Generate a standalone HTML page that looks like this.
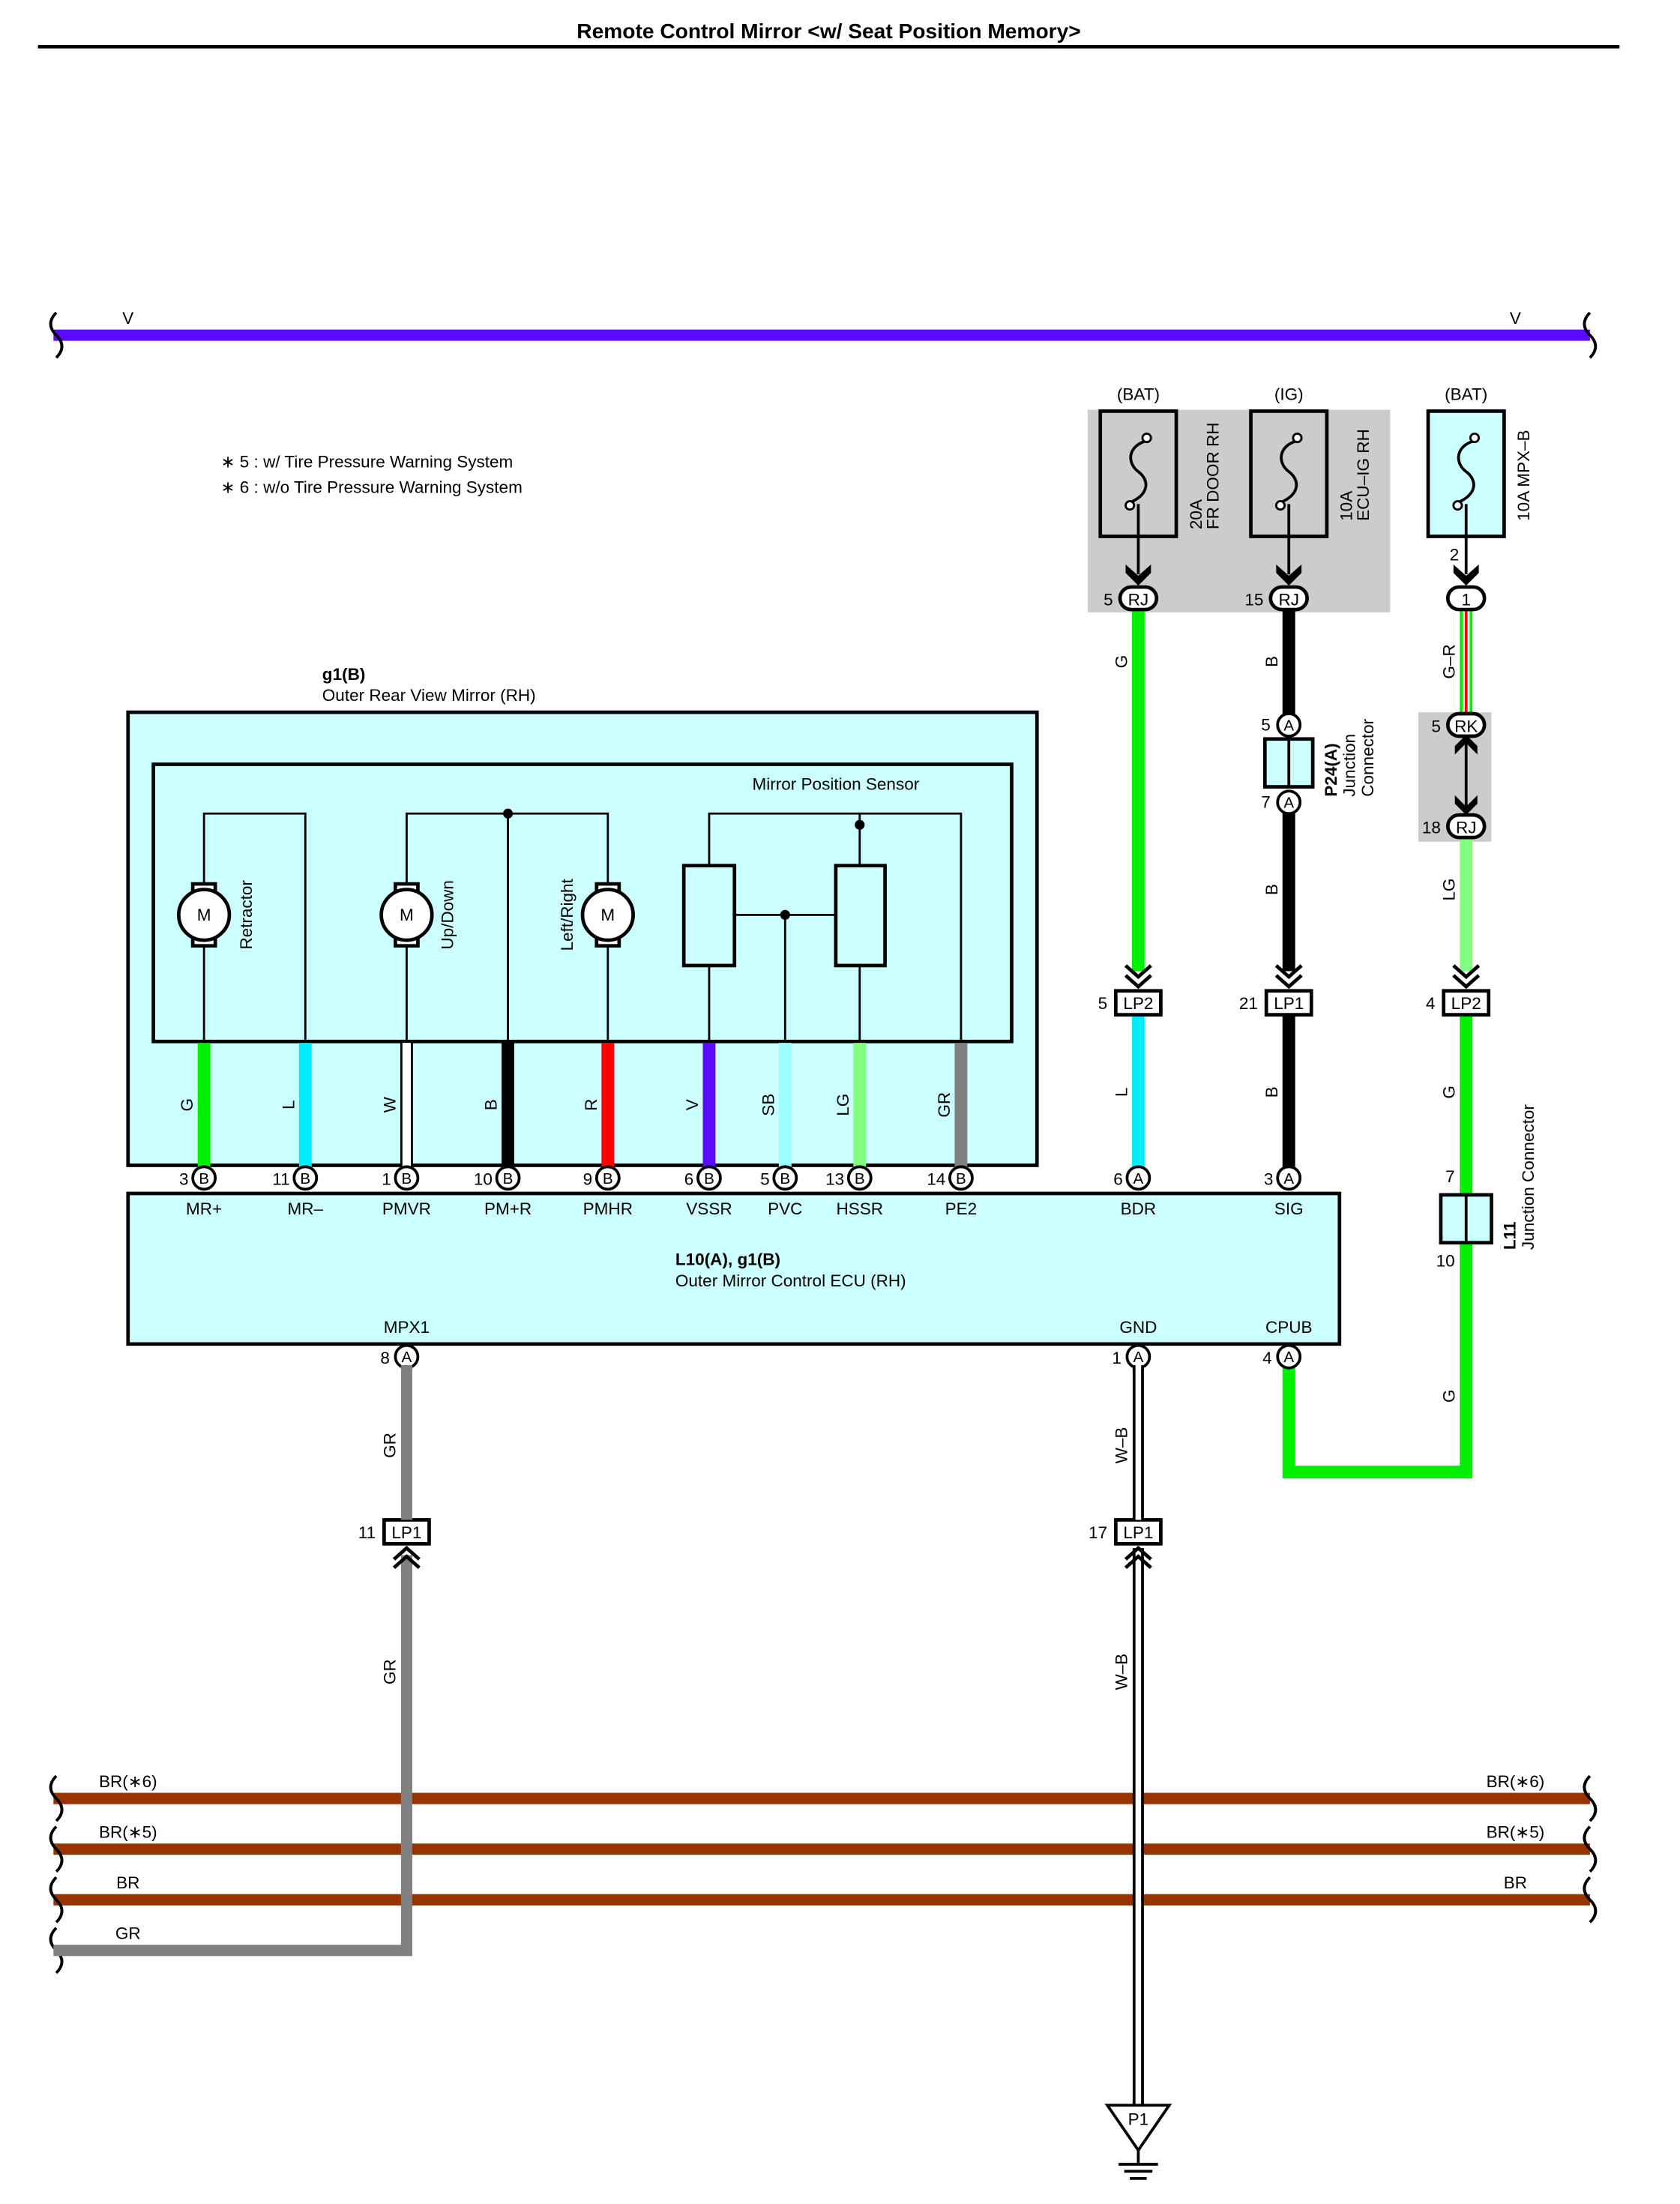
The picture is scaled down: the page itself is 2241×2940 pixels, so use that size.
<!DOCTYPE html>
<html><head><meta charset="utf-8"><style>
html,body{margin:0;padding:0;background:#fff}
svg{display:block}
text{font-family:"Liberation Sans",sans-serif;fill:#000}
</style></head><body>
<svg width="2241" height="2940" viewBox="0 0 1194 1566" xmlns="http://www.w3.org/2000/svg">
<text x="589" y="27" font-size="15" font-weight="bold" text-anchor="middle">Remote Control Mirror &lt;w/ Seat Position Memory&gt;</text>
<line x1="27" y1="33" x2="1151" y2="33" stroke="#000" stroke-width="2.5"/>

<line x1="38" y1="238" x2="1130" y2="238" stroke="#5a0aff" stroke-width="8"/>
<path d="M40 222 q-8 8 0 16 q8 8 0 16" fill="none" stroke="#000" stroke-width="2"/>
<path d="M1130 222 q-8 8 0 16 q8 8 0 16" fill="none" stroke="#000" stroke-width="2"/>
<text x="91" y="230" font-size="12" text-anchor="middle">V</text>
<text x="1077" y="230" font-size="12" text-anchor="middle">V</text>

<text x="157" y="332" font-size="12">∗ 5 : w/ Tire Pressure Warning System</text>
<text x="157" y="350" font-size="12">∗ 6 : w/o Tire Pressure Warning System</text>

<rect x="773" y="291" width="215" height="144" fill="#cccccc"/>
<rect x="1008" y="506" width="52" height="92" fill="#cccccc"/>
<text x="809" y="284" font-size="12" text-anchor="middle">(BAT)</text>
<text x="916" y="284" font-size="12" text-anchor="middle">(IG)</text>
<text x="1042" y="284" font-size="12" text-anchor="middle">(BAT)</text>
<g stroke="#000" stroke-width="2.5">
<rect x="782" y="292" width="54" height="89" fill="#cccccc"/>
<rect x="889" y="292" width="54" height="89" fill="#cccccc"/>
<rect x="1015" y="292" width="54" height="89" fill="#ccffff"/>
</g>
<g fill="none" stroke="#000" stroke-width="2">
<path d="M815 313 c-14 4 -14 16 -6 22 c8 6 8 16 -6 22"/>
<path d="M922 313 c-14 4 -14 16 -6 22 c8 6 8 16 -6 22"/>
<path d="M1048 313 c-14 4 -14 16 -6 22 c8 6 8 16 -6 22"/>
<line x1="809" y1="358" x2="809" y2="408"/>
<line x1="916" y1="358" x2="916" y2="408"/>
<line x1="1042" y1="358" x2="1042" y2="408"/>
</g>
<g fill="#fff" stroke="#000" stroke-width="1.5">
<circle cx="815" cy="311" r="3"/><circle cx="803" cy="359" r="3"/>
<circle cx="922" cy="311" r="3"/><circle cx="910" cy="359" r="3"/>
<circle cx="1048" cy="311" r="3"/><circle cx="1036" cy="359" r="3"/>
</g>
<g font-size="12">
<text transform="translate(854,376) rotate(-90)">20A</text>
<text transform="translate(866,376) rotate(-90)">FR DOOR RH</text>
<text transform="translate(961,370) rotate(-90)">10A</text>
<text transform="translate(973,370) rotate(-90)">ECU–IG RH</text>
<text transform="translate(1087,370) rotate(-90)">10A MPX–B</text>
</g>
<g fill="#000">
<path d="M800 401 l9 8 l9 -8 v6 l-9 9 l-9 -9z"/>
<path d="M907 401 l9 8 l9 -8 v6 l-9 9 l-9 -9z"/>
<path d="M1033 401 l9 8 l9 -8 v6 l-9 9 l-9 -9z"/>
</g>

<line x1="809" y1="432" x2="809" y2="690" stroke="#00ee00" stroke-width="9"/>
<line x1="809" y1="720" x2="809" y2="830" stroke="#00eeff" stroke-width="9"/>
<line x1="916" y1="432" x2="916" y2="508" stroke="#000" stroke-width="9"/>
<line x1="916" y1="576" x2="916" y2="690" stroke="#000" stroke-width="9"/>
<line x1="916" y1="720" x2="916" y2="830" stroke="#000" stroke-width="9"/>
<line x1="1042" y1="432" x2="1042" y2="508" stroke="#00ee00" stroke-width="9"/>
<line x1="1042" y1="432" x2="1042" y2="508" stroke="#fff" stroke-width="5"/>
<line x1="1042" y1="432" x2="1042" y2="508" stroke="#ff0000" stroke-width="2"/>
<line x1="1042" y1="593" x2="1042" y2="690" stroke="#80ff80" stroke-width="9"/>
<path d="M1042 720 V1046 H916 V970" fill="none" stroke="#00ee00" stroke-width="9"/>
<line x1="1042" y1="521" x2="1042" y2="580" stroke="#000" stroke-width="2"/>
<path d="M1034 536 l8 -8 l8 8 v-6 l-8 -8 l-8 8z M1034 565 l8 8 l8 -8 v6 l-8 8 l-8 -8z" fill="#000"/>

<g font-size="12">
<text transform="translate(801,470) rotate(-90)" text-anchor="middle">G</text>
<text transform="translate(908,470) rotate(-90)" text-anchor="middle">B</text>
<text transform="translate(908,632) rotate(-90)" text-anchor="middle">B</text>
<text transform="translate(1034,470) rotate(-90)" text-anchor="middle">G–R</text>
<text transform="translate(1034,632) rotate(-90)" text-anchor="middle">LG</text>
<text transform="translate(801,776) rotate(-90)" text-anchor="middle">L</text>
<text transform="translate(908,776) rotate(-90)" text-anchor="middle">B</text>
<text transform="translate(1034,776) rotate(-90)" text-anchor="middle">G</text>
<text transform="translate(1034,992) rotate(-90)" text-anchor="middle">G</text>
</g>

<g stroke="#000" stroke-width="2.5" fill="#fff">
<rect x="796" y="417" width="26" height="16" rx="8"/>
<rect x="903" y="417" width="26" height="16" rx="8"/>
<rect x="1029" y="417" width="26" height="16" rx="8"/>
<rect x="1029" y="507" width="26" height="16" rx="8"/>
<rect x="1029" y="579" width="26" height="16" rx="8"/>
</g>
<g font-size="12" text-anchor="middle">
<text x="809" y="430">RJ</text><text x="916" y="430">RJ</text><text x="1042" y="430">1</text>
<text x="1042" y="520">RK</text><text x="1042" y="592">RJ</text>
</g>
<g font-size="12" text-anchor="end">
<text x="791" y="430">5</text><text x="898" y="430">15</text><text x="1037" y="398">2</text>
<text x="1024" y="520">5</text><text x="1024" y="592">18</text>
</g>

<rect x="899" y="525" width="34" height="34" fill="#ccffff" stroke="#000" stroke-width="2.5"/>
<line x1="916" y1="525" x2="916" y2="559" stroke="#000" stroke-width="2"/>
<g stroke="#000" stroke-width="2" fill="#fff"><circle cx="916" cy="515" r="8"/><circle cx="916" cy="570" r="8"/></g>
<text x="916" y="519" font-size="11" text-anchor="middle">A</text>
<text x="916" y="574" font-size="11" text-anchor="middle">A</text>
<text x="903" y="519" font-size="12" text-anchor="end">5</text>
<text x="903" y="574" font-size="12" text-anchor="end">7</text>
<text transform="translate(950,566) rotate(-90)" font-size="12" font-weight="bold">P24(A)</text>
<text transform="translate(963,566) rotate(-90)" font-size="12">Junction</text>
<text transform="translate(976,566) rotate(-90)" font-size="12">Connector</text>

<g fill="none" stroke="#000" stroke-width="2.5">
<path d="M800 686 l9 8 l9 -8 M800 693 l9 8 l9 -8"/>
<path d="M907 686 l9 8 l9 -8 M907 693 l9 8 l9 -8"/>
<path d="M1033 686 l9 8 l9 -8 M1033 693 l9 8 l9 -8"/>
</g>
<g stroke="#000" stroke-width="2.5" fill="#fff">
<rect x="793" y="704" width="32" height="17"/>
<rect x="900" y="704" width="32" height="17"/>
<rect x="1026" y="704" width="32" height="17"/>
<rect x="273" y="1080" width="32" height="17"/>
<rect x="793" y="1080" width="32" height="17"/>
</g>
<g font-size="12" text-anchor="middle">
<text x="809" y="717">LP2</text><text x="916" y="717">LP1</text><text x="1042" y="717">LP2</text>
<text x="289" y="1093">LP1</text><text x="809" y="1093">LP1</text>
</g>
<g font-size="12" text-anchor="end">
<text x="787" y="717">5</text><text x="894" y="717">21</text><text x="1020" y="717">4</text>
<text x="267" y="1093">11</text><text x="787" y="1093">17</text>
</g>

<rect x="1024" y="849" width="36" height="34" fill="#ccffff" stroke="#000" stroke-width="2.5"/>
<line x1="1042" y1="849" x2="1042" y2="883" stroke="#000" stroke-width="2"/>
<text x="1034" y="840" font-size="12" text-anchor="end">7</text>
<text x="1034" y="900" font-size="12" text-anchor="end">10</text>
<text transform="translate(1077,888) rotate(-90)" font-size="12" font-weight="bold">L11</text>
<text transform="translate(1090,888) rotate(-90)" font-size="12">Junction Connector</text>

<text x="229" y="483" font-size="12" font-weight="bold">g1(B)</text>
<text x="229" y="498" font-size="12">Outer Rear View Mirror (RH)</text>
<rect x="91" y="506" width="646" height="322" fill="#ccffff" stroke="#000" stroke-width="2.5"/>
<rect x="109" y="543" width="610" height="197" fill="#ccffff" stroke="#000" stroke-width="2.5"/>
<text x="594" y="561" font-size="12" text-anchor="middle">Mirror Position Sensor</text>
<g fill="none" stroke="#000" stroke-width="1.5">
<path d="M145 740 V578 H217 V740"/>
<path d="M289 740 V578 H432 V740"/>
<line x1="361" y1="578" x2="361" y2="740"/>
<path d="M504 740 V578 H683 V740"/>
<line x1="558" y1="650" x2="558" y2="740"/>
<line x1="522" y1="650" x2="594" y2="650"/>
<line x1="611" y1="578" x2="611" y2="740"/>
</g>
<circle cx="361" cy="578" r="3.5"/><circle cx="558" cy="650" r="3.5"/><circle cx="611" cy="586" r="3.5"/>
<g stroke="#000" stroke-width="2.5" fill="#ccffff">
<rect x="486" y="615" width="36" height="71"/>
<rect x="594" y="615" width="35" height="71"/>
</g>
<g stroke="#000" stroke-width="2.5" fill="#fff">
<rect x="137" y="628" width="16" height="8"/><rect x="137" y="664" width="16" height="8"/><circle cx="145" cy="650" r="18"/>
<rect x="281" y="628" width="16" height="8"/><rect x="281" y="664" width="16" height="8"/><circle cx="289" cy="650" r="18"/>
<rect x="424" y="628" width="16" height="8"/><rect x="424" y="664" width="16" height="8"/><circle cx="432" cy="650" r="18"/>
</g>
<g font-size="12" text-anchor="middle"><text x="145" y="654">M</text><text x="289" y="654">M</text><text x="432" y="654">M</text></g>
<g font-size="12" text-anchor="middle">
<text transform="translate(179,650) rotate(-90)">Retractor</text>
<text transform="translate(322,650) rotate(-90)">Up/Down</text>
<text transform="translate(407,650) rotate(-90)">Left/Right</text>
</g>
<g stroke-width="9">
<line x1="145" y1="741" x2="145" y2="830" stroke="#00ee00"/>
<line x1="217" y1="741" x2="217" y2="830" stroke="#00eeff"/>
<line x1="289" y1="741" x2="289" y2="830" stroke="#000"/>
<line x1="289" y1="741" x2="289" y2="830" stroke="#fff" stroke-width="6"/>
<line x1="361" y1="741" x2="361" y2="830" stroke="#000"/>
<line x1="432" y1="741" x2="432" y2="830" stroke="#ff0000"/>
<line x1="504" y1="741" x2="504" y2="830" stroke="#5a0aff"/>
<line x1="558" y1="741" x2="558" y2="830" stroke="#99ffff"/>
<line x1="611" y1="741" x2="611" y2="830" stroke="#80ff80"/>
<line x1="683" y1="741" x2="683" y2="830" stroke="#808080"/>
</g>
<g font-size="12" text-anchor="middle">
<text transform="translate(137,785) rotate(-90)">G</text>
<text transform="translate(209,785) rotate(-90)">L</text>
<text transform="translate(281,785) rotate(-90)">W</text>
<text transform="translate(353,785) rotate(-90)">B</text>
<text transform="translate(424,785) rotate(-90)">R</text>
<text transform="translate(496,785) rotate(-90)">V</text>
<text transform="translate(550,785) rotate(-90)">SB</text>
<text transform="translate(603,785) rotate(-90)">LG</text>
<text transform="translate(675,785) rotate(-90)">GR</text>
</g>

<rect x="91" y="848" width="861" height="107" fill="#ccffff" stroke="#000" stroke-width="2.5"/>
<text x="480" y="899" font-size="12" font-weight="bold">L10(A), g1(B)</text>
<text x="480" y="914" font-size="12">Outer Mirror Control ECU (RH)</text>
<g font-size="12" text-anchor="middle">
<text x="145" y="863">MR+</text><text x="217" y="863">MR–</text><text x="289" y="863">PMVR</text>
<text x="361" y="863">PM+R</text><text x="432" y="863">PMHR</text><text x="504" y="863">VSSR</text>
<text x="558" y="863">PVC</text><text x="611" y="863">HSSR</text><text x="683" y="863">PE2</text>
<text x="809" y="863">BDR</text><text x="916" y="863">SIG</text>
<text x="289" y="947">MPX1</text><text x="809" y="947">GND</text><text x="916" y="947">CPUB</text>
</g>
<g stroke="#000" stroke-width="2" fill="#fff">
<circle cx="145" cy="837" r="8"/><circle cx="217" cy="837" r="8"/><circle cx="289" cy="837" r="8"/>
<circle cx="361" cy="837" r="8"/><circle cx="432" cy="837" r="8"/><circle cx="504" cy="837" r="8"/>
<circle cx="558" cy="837" r="8"/><circle cx="611" cy="837" r="8"/><circle cx="683" cy="837" r="8"/>
<circle cx="809" cy="837" r="8"/><circle cx="916" cy="837" r="8"/>
<circle cx="289" cy="964" r="8"/><circle cx="809" cy="964" r="8"/><circle cx="916" cy="964" r="8"/>
</g>
<g font-size="11" text-anchor="middle">
<text x="145" y="841">B</text><text x="217" y="841">B</text><text x="289" y="841">B</text>
<text x="361" y="841">B</text><text x="432" y="841">B</text><text x="504" y="841">B</text>
<text x="558" y="841">B</text><text x="611" y="841">B</text><text x="683" y="841">B</text>
<text x="809" y="841">A</text><text x="916" y="841">A</text>
<text x="289" y="968">A</text><text x="809" y="968">A</text><text x="916" y="968">A</text>
</g>
<g font-size="12" text-anchor="end">
<text x="134" y="842">3</text><text x="206" y="842">11</text><text x="278" y="842">1</text>
<text x="350" y="842">10</text><text x="421" y="842">9</text><text x="493" y="842">6</text>
<text x="547" y="842">5</text><text x="600" y="842">13</text><text x="672" y="842">14</text>
<text x="798" y="842">6</text><text x="905" y="842">3</text>
<text x="277" y="969">8</text><text x="797" y="969">1</text><text x="904" y="969">4</text>
</g>

<g stroke="#993300" stroke-width="8">
<line x1="38" y1="1278" x2="1130" y2="1278"/>
<line x1="38" y1="1314" x2="1130" y2="1314"/>
<line x1="38" y1="1350" x2="1130" y2="1350"/>
</g>
<g fill="none" stroke="#000" stroke-width="2">
<path d="M40 1262 q-8 8 0 16 q8 8 0 16"/><path d="M1130 1262 q-8 8 0 16 q8 8 0 16"/>
<path d="M40 1298 q-8 8 0 16 q8 8 0 16"/><path d="M1130 1298 q-8 8 0 16 q8 8 0 16"/>
<path d="M40 1334 q-8 8 0 16 q8 8 0 16"/><path d="M1130 1334 q-8 8 0 16 q8 8 0 16"/>
<path d="M40 1370 q-8 8 0 16 q8 8 0 16"/>
</g>
<g font-size="12" text-anchor="middle">
<text x="91" y="1270">BR(∗6)</text><text x="1077" y="1270">BR(∗6)</text>
<text x="91" y="1306">BR(∗5)</text><text x="1077" y="1306">BR(∗5)</text>
<text x="91" y="1342">BR</text><text x="1077" y="1342">BR</text>
<text x="91" y="1378">GR</text>
</g>

<path d="M38 1386 H289 V1105" fill="none" stroke="#808080" stroke-width="8"/>
<line x1="289" y1="970" x2="289" y2="1080" stroke="#808080" stroke-width="8"/>
<path d="M280 1114 l9 -8 l9 8 M280 1108 l9 -8 l9 8" fill="none" stroke="#000" stroke-width="2.5"/>
<text transform="translate(281,1027) rotate(-90)" font-size="12" text-anchor="middle">GR</text>
<text transform="translate(281,1188) rotate(-90)" font-size="12" text-anchor="middle">GR</text>

<g>
<line x1="809" y1="970" x2="809" y2="1080" stroke="#000" stroke-width="8"/>
<line x1="809" y1="970" x2="809" y2="1080" stroke="#fff" stroke-width="4"/>
<line x1="809" y1="1100" x2="809" y2="1497" stroke="#000" stroke-width="8"/>
<line x1="809" y1="1100" x2="809" y2="1497" stroke="#fff" stroke-width="4"/>
</g>
<path d="M800 1114 l9 -8 l9 8 M800 1108 l9 -8 l9 8" fill="none" stroke="#000" stroke-width="2.5"/>
<text transform="translate(801,1027) rotate(-90)" font-size="12" text-anchor="middle">W–B</text>
<text transform="translate(801,1188) rotate(-90)" font-size="12" text-anchor="middle">W–B</text>
<path d="M787 1496 H831 L809 1528 Z" fill="#fff" stroke="#000" stroke-width="2"/>
<text x="809" y="1510" font-size="12" text-anchor="middle">P1</text>
<g stroke="#000" stroke-width="2">
<line x1="809" y1="1528" x2="809" y2="1538"/>
<line x1="795" y1="1538" x2="823" y2="1538"/>
<line x1="799" y1="1543" x2="819" y2="1543"/>
<line x1="803" y1="1548" x2="815" y2="1548"/>
</g>
</svg>
</body></html>
